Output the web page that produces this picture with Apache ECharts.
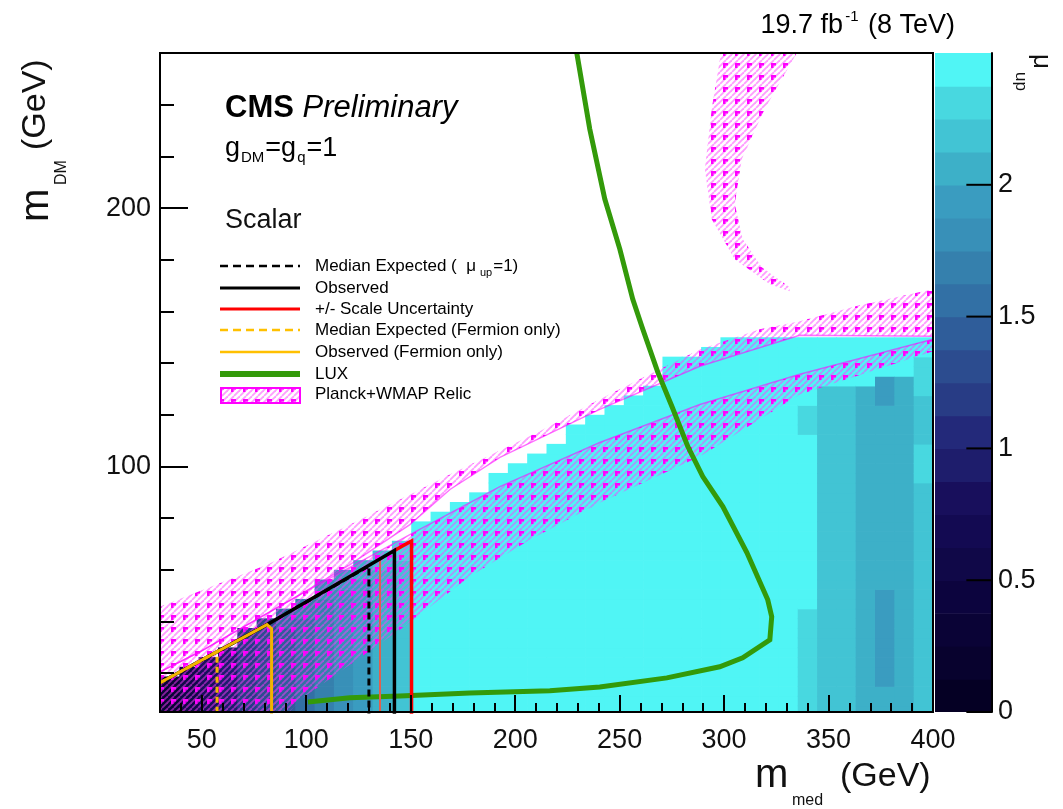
<!DOCTYPE html>
<html><head><meta charset="utf-8">
<script src="https://cdn.jsdelivr.net/npm/echarts@6/dist/echarts.min.js"></script>
<style>html,body{margin:0;padding:0;background:#fff}#c{width:1063px;height:809px}</style>
</head><body><div id="c"></div>
<script>
// ---------------- data ----------------
const mMedEdges = [30,39.25,48.5,57.75,67,76.25,85.5,94.75,104,113.25,122.5,131.75,141,150.25,159.5,168.75,178,187.25,196.5,205.75,215,224.25,233.5,242.75,252,261.25,270.5,279.75,289,298.25,307.5,316.75,326,335.25,344.5,353.75,363,372.25,381.5,390.75,400];
const mDMEdges = [0,3.75,7.5,11.25,15,18.75,22.5,26.25,30,33.75,37.5,41.25,45,48.75,52.5,56.25,60,63.75,67.5,71.25,75,78.75,82.5,86.25,90,93.75,97.5,101.25,105,108.75,112.5,116.25,120,123.75,127.5,131.25,135,138.75,142.5,146.25,150];
// mu_up level codes: a..t -> muLevelValues
const muCodes = 'abcdefghijklmnopqrst';
const muLevelValues = [0.06,0.19,0.31,0.44,0.56,0.69,0.81,0.94,1.06,1.19,1.31,1.44,1.56,1.69,1.81,1.94,2.06,2.19,2.31,2.5];
// one string per m_med column, from the lowest m_DM bin upwards
const muCols = [
 'ccccc',
 'eeeeee',
 'ggggggg',
 'hhhhhhhh',
 'jjjjjjjjjj',
 'kkkkkkkkkkk',
 'llllllllllmm',
 'mmmmmmmmmmmnn',
 'nnnnnnnnnnnnnoo',
 'oooooooooooooopp',
 'pppppppppppppppqq',
 'qqqqqqqqqqqqqqqqrr',
 'rrrrrrrrrrrrrrrrrss',
 'ttttttttttttttttttttt',
 'tttttttttttttttttttttt',
 'ttttttttttttttttttttttt',
 'tttttttttttttttttttttttt',
 'tttttttttttttttttttttttttt',
 'ttttttttttttttttttttttttttt',
 'tttttttttttttttttttttttttttt',
 'ttttttttttttttttttttttttttttt',
 'ttttttttttttttttttttttttttttttt',
 'tttttttttttttttttttttttttttttttt',
 'ttttttttttttttttttttttttttttttttt',
 'tttttttttttttttttttttttttttttttttt',
 'ttttttttttttttttttttttttttttttttttt',
 'tttttttttttttttttttttttttttttttttttttt',
 'tttttttttttttttttttttttttttttttttttttt',
 'ttttttttttttttttttttttttttttttttttttttt',
 'tttttttttttttttttttttttttttttttttttttttt',
 'tttttttttttttttttttttttttttttttttttttttt',
 'tttttttttttttttttttttttttttttttttttttttt',
 'tttttttttttttttttttttttttttttttttttttttt',
 'ssssssssssssttttttttttttttttttsssttttttt',
 'rrrrrrrrrrrrrrrrrrrrrrrrrrrrrrrrrrrttttt',
 'rrrrrrrrrrrrrrrrrrrrrrrrrrrrrrrrrrrttttt',
 'qqqqqqqqqqqqqqqqqqqqqqqqqqqqqqqqqqqttttt',
 'qqqqppppppppppqqqqqqqqqqqqqqqqqqqppptttt',
 'qqqqqqqqqqqqqqqqqqqqqqqqqqqqqqqqqqqqtttt',
 'rrrrrrrrrrrrrrrrrrrrrrrrrssssrrrrrsssstt'
];
const zPalette = ['#050024','#08022e','#0a0336','#0c043e','#100848','#130a52','#180f5c','#1e1d6c','#23297a','#283c85','#2c4c8f','#2f5d9a','#3270a5','#3580ad','#3890b8','#3a9cc0','#3db0c8','#42c4d4','#48d8e0','#50f5f5'];
const zLevelEdges = [0,0.125,0.25,0.375,0.5,0.625,0.75,0.875,1,1.125,1.25,1.375,1.5,1.625,1.75,1.875,2,2.125,2.25,2.375,2.5];
const zTickValues = [0,0.5,1,1.5,2];
const xMajorTicks = [50,100,150,200,250,300,350,400];
const xMinorTicks = [30,40,60,70,80,90,110,120,130,140,160,170,180,190,210,220,230,240,260,270,280,290,310,320,330,340,360,370,380,390];
const yMajorTicks = [100,200];
const yMinorTicks = [20,40,60,80,120,140,160,180,220,240];

const observedLimit = [[30,16.3],[81.2,38.8],[142.2,67.5],[142.2,0]];
const expectedLimit = [[30,16.3],[81.2,38.8],[130,61.5],[130,0]];
const scaleUp = [[142.2,67.5],[150.4,71.2],[150.4,0]];
const scaleDown = [[135.3,64.4],[135.3,0]];
const fermionObserved = [[30,16.3],[81.2,38.8],[83.4,37.2],[83.4,0]];
const fermionExpected = [[30,16.3],[57.3,28.3],[57.3,0]];
const luxLimit = [[229.5,260],[235.7,230.6],[242.9,203.5],[250.1,184.1],[256.3,164.7],[261.1,153.1],[268.3,136.4],[275.0,123.3],[282.6,107.8],[289.8,96.1],[299.4,84.5],[310.9,66.7],[320.9,48.4],[322.8,41.9],[321.9,32.9],[308.9,26.0],[297.9,22.5],[272.6,18.2],[240.5,14.7],[216.6,13.2],[178.3,12.4],[144.8,11.2],[120.9,10.5],[100.8,8.9]];
// Planck+WMAP relic contours (m_med, m_DM) and the hatched side of each
const relicUpperContour = [[400,150.4],[336.2,150.8],[288.4,138.8],[240.5,122.1],[192.7,103.5],[168.8,91.1],[149.6,77.5],[120.9,62],[97,50.4],[49.1,28.3],[30,20.5]];
const relicUpperEdge = [[30,45.7],[81.2,62],[120.9,77.5],[168.8,96.9],[211.8,113.6],[240.5,126],[264.4,135.7],[288.4,145.3],[317.1,153.1],[336.2,156.2],[364.9,162.4],[400,168.6]];
const relicLowerContour = [[30,20.5],[49.1,28.3],[97,50.4],[149.6,73.6],[192.7,92.2],[240.5,109.3],[288.4,124],[336.2,135.7],[400,149.2]];
const relicLowerEdge = [[400,144.6],[336.2,127.9],[288.4,103.9],[240.5,86],[207,71.7],[178.3,57.4],[144.8,36.8],[97,9.7],[89.8,3],[30,3]];
const relicFunnel = [[298.9,262],[294.1,238.4],[290.8,215.1],[294.1,195.7],[305.1,180.2],[321.9,170.5],[331.4,167.8],[331.4,169.4],[318,177.1],[308.9,188],[305.1,201.6],[308.5,219],[319.5,238.4],[336.2,262]];

// ---------------- build ----------------
const heatCells = [];
muCols.forEach((col, c) => {
  for (let r = 0; r < col.length; r++) {
    const v = muLevelValues[muCodes.indexOf(col[r])];
    heatCells.push([mMedEdges[c], mMedEdges[c+1], mDMEdges[r], mDMEdges[r+1], v]);
  }
});
const barCells = zPalette.map((col, i) => [0, 1, zLevelEdges[i], zLevelEdges[i+1], (zLevelEdges[i] + zLevelEdges[i+1]) / 2]);
const pieces = zPalette.map((col, i) => i === zPalette.length - 1
  ? {gte: zLevelEdges[i], color: col}
  : {gte: zLevelEdges[i], lt: zLevelEdges[i+1], color: col});
const relicUpperBand = relicUpperEdge.concat(relicUpperContour);
const relicLowerBand = relicLowerContour.concat(relicLowerEdge);

function makeHatch() {
  const c = document.createElement('canvas');
  c.width = 12; c.height = 12;
  const g = c.getContext('2d');
  g.strokeStyle = 'rgba(255,60,255,0.5)';
  g.lineWidth = 1.8;
  for (let k = -12; k <= 24; k += 6) { g.beginPath(); g.moveTo(k, 12); g.lineTo(k + 12, 0); g.stroke(); }
  g.fillStyle = '#ff00ff';
  g.fillRect(3, 3, 5, 2.5); g.fillRect(3, 3, 2.5, 5);
  return c;
}
const hatch = makeHatch();

function rectItem(params, api) {
  const p0 = api.coord([api.value(0), api.value(3)]);
  const p1 = api.coord([api.value(1), api.value(2)]);
  const cs = params.coordSys;
  const shape = echarts.graphic.clipRectByRect(
    {x: p0[0], y: p0[1], width: p1[0] - p0[0] + 0.7, height: p1[1] - p0[1] + 0.7},
    {x: cs.x, y: cs.y, width: cs.width, height: cs.height});
  if (!shape) return;
  return {type: 'rect', shape: shape, style: {fill: api.visual('color')}};
}
function polySeries(pts) {
  return {type: 'custom', xAxisIndex: 0, yAxisIndex: 0, z: 3, clip: true, silent: true,
    data: [0],
    renderItem: (params, api) => ({type: 'polygon',
      shape: {points: pts.map(p => api.coord(p))},
      style: {fill: {image: hatch, repeat: 'repeat'}}})};
}
function lineSeries(data, color, width, dash, z) {
  return {type: 'line', xAxisIndex: 0, yAxisIndex: 0, data: data, showSymbol: false, symbol: 'none',
    clip: true, z: z || 5, silent: true, animation: false,
    lineStyle: {color: color, width: width, type: dash || 'solid', cap: 'butt', join: 'miter'}};
}
function zTickItem(params, api) {
  const a = api.coord([0.55, api.value(0)]);
  const b = api.coord([1, api.value(0)]);
  return {type: 'line', shape: {x1: a[0], y1: a[1], x2: b[0], y2: b[1]}, style: {stroke: '#000', lineWidth: 2}};
}

const FONT = '"Liberation Sans", Arial, Helvetica, sans-serif';
const chart = echarts.init(document.getElementById('c'), null, {renderer: 'canvas'});

const legendRows = [
  {y: 266, color: '#000', width: 2.5, dash: [8, 5], rich: '{t|Median Expected (  μ}{s|up}{t|=1)}'},
  {y: 288, color: '#000', width: 3, dash: null, rich: '{t|Observed}'},
  {y: 309, color: '#ff0000', width: 3, dash: null, rich: '{t|+/- Scale Uncertainty}'},
  {y: 330, color: '#ffc000', width: 2.5, dash: [8, 5], rich: '{t|Median Expected (Fermion only)}'},
  {y: 352, color: '#ffc000', width: 2.5, dash: null, rich: '{t|Observed (Fermion only)}'},
  {y: 374, color: '#339a0a', width: 6, dash: null, rich: '{t|LUX}'}
];
const legendRich = {
  t: {fontFamily: FONT, fontSize: 17, color: '#1a1a1a', lineHeight: 20, verticalAlign: 'top'},
  s: {fontFamily: FONT, fontSize: 11, color: '#1a1a1a', lineHeight: 11, padding: [16, 1, 0, 4], verticalAlign: 'bottom'}
};
const graphics = [];
legendRows.forEach(r => {
  graphics.push({type: 'line', shape: {x1: 220, y1: r.y, x2: 300, y2: r.y},
    style: {stroke: r.color, lineWidth: r.width, lineDash: r.dash || null}});
  graphics.push({type: 'text', x: 315, y: r.y + 2, style: {text: r.rich, rich: legendRich, verticalAlign: 'middle', align: 'left'}});
});
graphics.push({type: 'rect', shape: {x: 221, y: 388, width: 79, height: 15},
  style: {fill: {image: hatch, repeat: 'repeat'}, stroke: '#ff00ff', lineWidth: 2}});
graphics.push({type: 'text', x: 315, y: 396, style: {text: '{t|Planck+WMAP Relic}', rich: legendRich, verticalAlign: 'middle'}});

// headline texts
graphics.push({type: 'text', x: 225, y: 108, style: {text: '{b|CMS }{i|Preliminary}', verticalAlign: 'middle',
  rich: {b: {fontFamily: FONT, fontSize: 31, fontWeight: 'bold', color: '#111'}, i: {fontFamily: FONT, fontSize: 31, fontStyle: 'italic', color: '#111'}}}});
graphics.push({type: 'text', x: 225, y: 150, style: {text: '{t|g}{s|DM}{t|=g}{s|q}{t|=1}', verticalAlign: 'middle',
  rich: {t: {fontFamily: FONT, fontSize: 27, color: '#111', lineHeight: 30, verticalAlign: 'top'},
         s: {fontFamily: FONT, fontSize: 15, color: '#111', lineHeight: 15, padding: [22, 1, 0, 1], verticalAlign: 'bottom'}}}});
graphics.push({type: 'text', x: 225, y: 221, style: {text: 'Scalar', fontFamily: FONT, fontSize: 27, fill: '#111', verticalAlign: 'middle'}});

// lumi text
graphics.push({type: 'text', x: 955, y: 24, style: {text: '{t|19.7 fb}{u|-1}{t| (8 TeV)}', align: 'right', verticalAlign: 'middle',
  rich: {t: {fontFamily: FONT, fontSize: 27, color: '#111', lineHeight: 30, verticalAlign: 'bottom'},
         u: {fontFamily: FONT, fontSize: 15, color: '#111', lineHeight: 15, padding: [0, 2, 18, 2], verticalAlign: 'top'}}}});

// axis titles
graphics.push({type: 'group', x: 57, y: 222, rotation: Math.PI / 2, children: [
  {type: 'text', x: 0, y: 0, style: {text: 'm', fontFamily: FONT, fontSize: 40, fill: '#111', verticalAlign: 'bottom'}},
  {type: 'text', x: 37, y: 13, style: {text: 'DM', fontFamily: FONT, fontSize: 16, fill: '#111', verticalAlign: 'bottom'}},
  {type: 'text', x: 72, y: -4, style: {text: '(GeV)', fontFamily: FONT, fontSize: 34, fill: '#111', verticalAlign: 'bottom'}}
]});
graphics.push({type: 'group', x: 755, y: 796, children: [
  {type: 'text', x: 0, y: 0, style: {text: 'm', fontFamily: FONT, fontSize: 40, fill: '#111', verticalAlign: 'bottom'}},
  {type: 'text', x: 37, y: 13, style: {text: 'med', fontFamily: FONT, fontSize: 16, fill: '#111', verticalAlign: 'bottom'}},
  {type: 'text', x: 85, y: -2, style: {text: '(GeV)', fontFamily: FONT, fontSize: 34, fill: '#111', verticalAlign: 'bottom'}}
]});
// z axis title (rotated clockwise)
graphics.push({type: 'group', x: 1028, y: 54, rotation: -Math.PI / 2, children: [
  {type: 'text', x: 0, y: 0, style: {text: 'μ', fontFamily: FONT, fontSize: 26, fill: '#111', verticalAlign: 'bottom'}},
  {type: 'text', x: 18, y: 16, style: {text: 'up', fontFamily: FONT, fontSize: 17, fill: '#111', verticalAlign: 'bottom'}}
]});

const axisBase = {type: 'value', min: 30, max: 400, splitLine: {show: false}};
const option = {
  animation: false,
  backgroundColor: '#fff',
  grid: [
    {left: 160, top: 53, width: 773, height: 659, show: true, borderColor: '#000', borderWidth: 2, backgroundColor: 'transparent', z: 10},
    {left: 935, top: 53, width: 57, height: 659, show: false}
  ],
  xAxis: [
    Object.assign({}, axisBase, {gridIndex: 0, position: 'bottom', z: 10,
      axisLine: {show: true, onZero: false, lineStyle: {color: '#000', width: 2}},
      axisTick: {show: true, inside: true, length: 17, customValues: xMajorTicks, lineStyle: {color: '#000', width: 2}},
      axisLabel: {show: true, customValues: xMajorTicks, fontFamily: FONT, fontSize: 27, color: '#111', margin: 15}}),
    Object.assign({}, axisBase, {gridIndex: 0, position: 'bottom', z: 10,
      axisLine: {show: false, onZero: false},
      axisTick: {show: true, inside: true, length: 9, customValues: xMinorTicks, lineStyle: {color: '#000', width: 2}},
      axisLabel: {show: false}}),
    {type: 'value', gridIndex: 1, min: 0, max: 1, show: false}
  ],
  yAxis: [
    {type: 'value', gridIndex: 0, min: 5, max: 260, position: 'left', z: 10, splitLine: {show: false},
      axisLine: {show: true, onZero: false, lineStyle: {color: '#000', width: 2}},
      axisTick: {show: true, inside: true, length: 28, customValues: yMajorTicks, lineStyle: {color: '#000', width: 2}},
      axisLabel: {show: true, customValues: yMajorTicks, fontFamily: FONT, fontSize: 27, color: '#111', margin: 9}},
    {type: 'value', gridIndex: 0, min: 5, max: 260, position: 'left', z: 10, splitLine: {show: false},
      axisLine: {show: false, onZero: false},
      axisTick: {show: true, inside: true, length: 14, customValues: yMinorTicks, lineStyle: {color: '#000', width: 2}},
      axisLabel: {show: false}},
    {type: 'value', gridIndex: 1, min: 0, max: 2.5, position: 'right', z: 10, splitLine: {show: false},
      axisLine: {show: true, onZero: false, lineStyle: {color: '#000', width: 2}},
      axisTick: {show: false},
      axisLabel: {show: true, customValues: zTickValues, fontFamily: FONT, fontSize: 27, color: '#111', margin: 6}}
  ],
  visualMap: [{type: 'piecewise', show: false, seriesIndex: [0, 1], dimension: 4, pieces: pieces}],
  series: [
    {type: 'custom', xAxisIndex: 0, yAxisIndex: 0, z: 1, silent: true, data: heatCells,
      encode: {x: [0, 1], y: [2, 3]}, renderItem: rectItem},
    {type: 'custom', xAxisIndex: 2, yAxisIndex: 2, z: 1, silent: true, data: barCells,
      encode: {x: [0, 1], y: [2, 3]}, renderItem: rectItem},
    {type: 'custom', xAxisIndex: 2, yAxisIndex: 2, z: 4, silent: true, data: zTickValues.map(v => [v]),
      encode: {y: 0}, renderItem: zTickItem},
    polySeries(relicUpperBand),
    polySeries(relicLowerBand),
    polySeries(relicFunnel),
    lineSeries(relicUpperContour, 'rgba(255,0,255,0.55)', 1.5, null, 4),
    lineSeries(relicLowerContour, 'rgba(255,0,255,0.55)', 1.5, null, 4),
    lineSeries(luxLimit, '#339a0a', 5, null, 6),
    lineSeries(expectedLimit, '#000', 3, [7, 4], 7),
    lineSeries(scaleDown, '#e0604e', 2, null, 7),
    lineSeries(scaleUp, '#ff0000', 3.5, null, 7),
    lineSeries(observedLimit, '#000', 3.5, null, 8),
    lineSeries(fermionExpected, '#f2b400', 3, [6, 4], 9),
    lineSeries(fermionObserved, '#f2b400', 3, null, 9)
  ],
  graphic: graphics
};
chart.setOption(option);
</script></body></html>
